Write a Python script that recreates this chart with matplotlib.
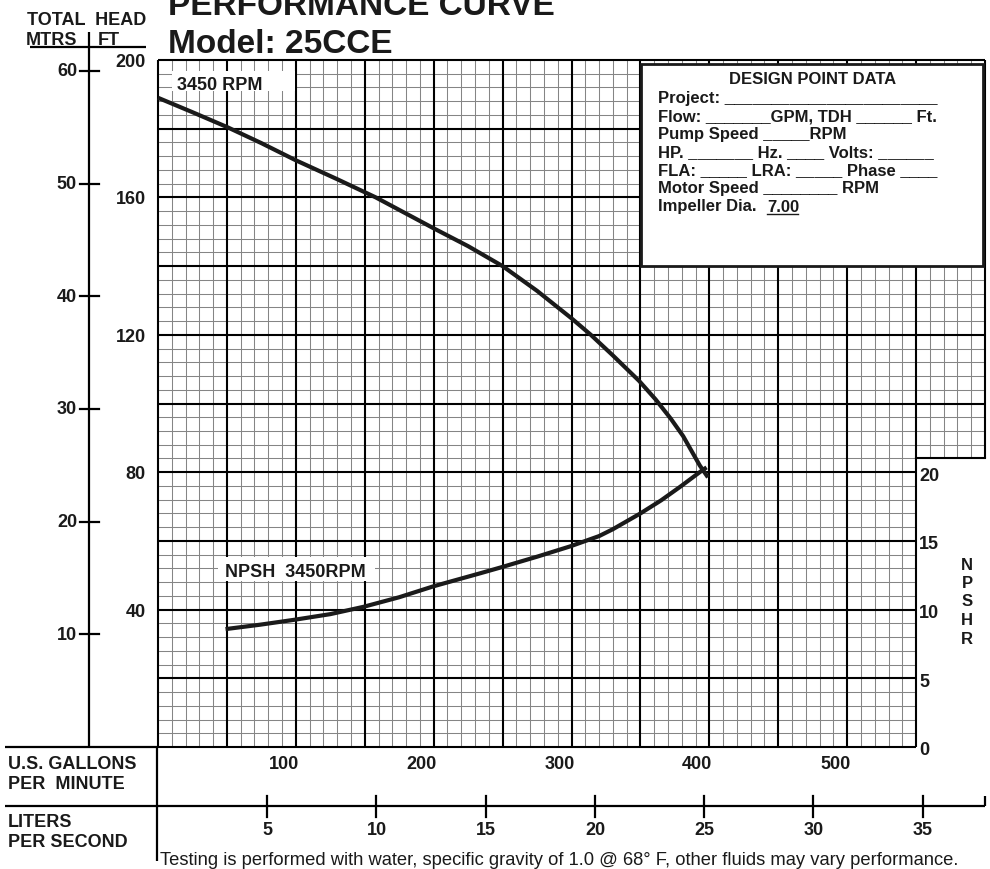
import matplotlib
matplotlib.use('Agg')
import matplotlib.pyplot as plt
from matplotlib.transforms import blended_transform_factory as btf, ScaledTranslation
from matplotlib.patches import Rectangle
from matplotlib.lines import Line2D

plt.rcParams['font.family'] = ['Liberation Sans', 'DejaVu Sans']

# ---------------- data ----------------
head_gpm = [0, 25, 50, 75, 100, 130, 158, 200, 225, 250, 275, 300, 314, 330, 349, 361, 372, 381, 393, 399]
head_ft = [189, 184.8, 180.5, 175.8, 170.8, 165.3, 160, 151, 145.8, 140, 132.8, 124.8, 120, 114, 106.6, 101.2, 95.6, 90.5, 82, 78.5]

npsh_gpm = [49, 74, 99, 125, 149, 175, 200, 234, 248, 275, 299, 320, 330, 350, 365, 379, 395, 398]
npsh_ft = [8.58, 8.9, 9.26, 9.67, 10.2, 10.9, 11.7, 12.65, 13.05, 13.85, 14.6, 15.35, 15.85, 17.0, 17.95, 18.95, 20.15, 20.35]

gpm_ticks = [100, 200, 300, 400, 500]
lps_ticks = [5, 10, 15, 20, 25, 30, 35]
meter_ticks = [10, 20, 30, 40, 50, 60]
ft_ticks = [40, 80, 120, 160, 200]
npsh_ticks = [0, 5, 10, 15, 20]

design_title = "DESIGN POINT DATA"
design_lines = [
    "Project: _______________________",
    "Flow: _______GPM, TDH ______ Ft.",
    "Pump Speed _____RPM",
    "HP. _______ Hz. ____ Volts: ______",
    "FLA: _____ LRA: _____ Phase ____",
    "Motor Speed ________ RPM",
    "Impeller Dia.  ",
]
impeller_dia = "7.00"
footer = "Testing is performed with water, specific gravity of 1.0 @ 68\u00b0 F, other fluids may vary performance."

GPM_PER_LPS = 15.8503
FT_PER_M = 3.28084

# ---------------- figure ----------------
W, H = 990, 870
fig = plt.figure(figsize=(W / 100, H / 100), dpi=100)
fig.patch.set_facecolor('white')


def fx(p):
    return p / W


def fy(p):
    return 1 - p / H


X0, X1, Y0, Y1 = 158, 985, 61, 748
rect = [fx(X0), fy(Y1), (X1 - X0) / W, (Y1 - Y0) / H]
ax = fig.add_axes(rect)
ax.set_xlim(0, 600)
ax.set_ylim(0, 200)
ax.axis('off')

ax2 = ax.twinx()
ax2.set_ylim(0, 50)
ax2.axis('off')
axm = ax.twinx()
axm.set_ylim(0, 200 / FT_PER_M)
axm.axis('off')
axl = ax.twiny()
axl.set_xlim(0, 600 / GPM_PER_LPS)
axl.axis('off')

MINOR = '#858585'
MAJ_LW = 1.5
MIN_LW = 0.75

# vertical grid
for g in range(0, 601, 10):
    bottom = 0 if g <= 550 else 84
    major = g % 50 == 0
    ax.plot([g, g], [bottom, 200], color='black' if major else MINOR,
            lw=MAJ_LW if major else MIN_LW, clip_on=False,
            zorder=2 if major else 1, solid_capstyle='butt')
# horizontal grid
for h in range(0, 201, 4):
    right = 600 if h >= 84 else 550
    major = h % 20 == 0
    ax.plot([0, right], [h, h], color='black' if major else MINOR,
            lw=MAJ_LW if major else MIN_LW, clip_on=False,
            zorder=2 if major else 1, solid_capstyle='butt')
ax.plot([550, 600], [84, 84], color='black', lw=MAJ_LW, clip_on=False, zorder=2)

# curves
ax.plot(head_gpm, head_ft, color='#1a1a1a', lw=3.0, zorder=6, solid_capstyle='butt',
        solid_joinstyle='round', clip_on=False)
ax2.plot(npsh_gpm, npsh_ft, color='#1a1a1a', lw=3.0, zorder=6, solid_capstyle='butt',
         solid_joinstyle='round', clip_on=False)


def fline(x0, y0, x1, y1, lw=1.6):
    fig.add_artist(Line2D([fx(x0), fx(x1)], [fy(y0), fy(y1)], transform=fig.transFigure,
                          color='black', lw=lw, solid_capstyle='butt'))


# frame lines outside the grid
fline(5, 748, 158, 748)
fline(157, 748, 157, 862)
fline(5, 807, 985, 807)
fline(985, 797, 985, 807)
fline(89, 33, 89, 748)
fline(30, 48, 146, 48)

BOLD = dict(fontweight='bold', color='#1a1a1a')

# meters axis
tm = btf(fig.transFigure, axm.transData)
for m in meter_ticks:
    fig.add_artist(Line2D([fx(80), fx(99)], [m, m], transform=tm, color='black', lw=1.6))
    fig.text(fx(77), m, str(m), transform=tm, ha='right', va='center', fontsize=13, **BOLD)

# feet labels
tf = btf(fig.transFigure, ax.transData) + ScaledTranslation(0, -0.015, fig.dpi_scale_trans)
for f in ft_ticks:
    fig.text(fx(146), f, str(f), transform=tf, ha='right', va='center', fontsize=13, **BOLD)

# NPSH labels
tn = btf(fig.transFigure, ax2.transData) + ScaledTranslation(0, -0.03, fig.dpi_scale_trans)
for n in npsh_ticks:
    fig.text(fx(919), n, str(n), transform=tn, ha='left', va='center', fontsize=13, **BOLD)
for i, ch in enumerate("NPSHR"):
    fig.text(fx(967), fy(565 + 18.5 * i), ch, ha='center', va='center', fontsize=12, **BOLD)

# GPM labels
tg = btf(ax.transData, fig.transFigure) + ScaledTranslation(-0.12, 0, fig.dpi_scale_trans)
for g in gpm_ticks:
    fig.text(g, fy(765), str(g), transform=tg, ha='center', va='center', fontsize=13, **BOLD)

# L/s axis
tl = btf(axl.transData, fig.transFigure)
for l in lps_ticks:
    fig.add_artist(Line2D([l, l], [fy(797), fy(818)], transform=tl, color='black', lw=1.6))
    fig.text(l, fy(831), str(l), transform=tl, ha='center', va='center', fontsize=13, **BOLD)

# left captions
fig.text(fx(8), fy(765), "U.S. GALLONS", ha='left', va='center', fontsize=13, **BOLD)
fig.text(fx(8), fy(785), "PER  MINUTE", ha='left', va='center', fontsize=13, **BOLD)
fig.text(fx(8), fy(823), "LITERS", ha='left', va='center', fontsize=13, **BOLD)
fig.text(fx(8), fy(843), "PER SECOND", ha='left', va='center', fontsize=13, **BOLD)

# header
fig.text(fx(27), fy(25), "TOTAL  HEAD", ha='left', va='baseline', fontsize=13, **BOLD)
fig.text(fx(26), fy(45), "MTRS", ha='left', va='baseline', fontsize=13, **BOLD)
fig.text(fx(98), fy(45), "FT", ha='left', va='baseline', fontsize=13, **BOLD)
fig.text(fx(168), fy(15), "PERFORMANCE CURVE", ha='left', va='baseline', fontsize=24, **BOLD)
fig.text(fx(168), fy(53), "Model: 25CCE", ha='left', va='baseline', fontsize=24, **BOLD)

# curve labels with white backgrounds
fig.add_artist(Rectangle((fx(172), fy(92)), (295 - 172) / W, 20 / H, transform=fig.transFigure,
                         facecolor='white', edgecolor='none', zorder=3))
fig.text(fx(177), fy(90), "3450 RPM", ha='left', va='baseline', fontsize=13, zorder=4, **BOLD)
fig.add_artist(Rectangle((fx(218), fy(582)), (375 - 218) / W, 24 / H, transform=fig.transFigure,
                         facecolor='white', edgecolor='none', zorder=3))
fig.text(fx(225), fy(577), "NPSH  3450RPM", ha='left', va='baseline', fontsize=13, zorder=4, **BOLD)

# design point box
fig.add_artist(Rectangle((fx(641), fy(267)), (983 - 641) / W, (267 - 65) / H, transform=fig.transFigure,
                         facecolor='white', edgecolor='#1a1a1a', lw=2.0, zorder=7))
fig.text(fx(813), fy(83.5), design_title, ha='center', va='baseline', fontsize=12, zorder=8, **BOLD)
for i, s in enumerate(design_lines):
    fig.text(fx(658), fy(103.5 + 18 * i), s, ha='left', va='baseline', fontsize=12, zorder=8, **BOLD)
fig.text(fx(767), fy(211.5), impeller_dia, ha='left', va='baseline', fontsize=12, zorder=8, **BOLD)
fig.add_artist(Line2D([fx(767), fx(798)], [fy(214.5), fy(214.5)], transform=fig.transFigure,
                      color='#1a1a1a', lw=1.0, zorder=8))

# footer
fig.text(fx(160), fy(865), footer, ha='left', va='baseline', fontsize=13.2, color='#1a1a1a')

fig.savefig('out.png', dpi=100, facecolor='white')
